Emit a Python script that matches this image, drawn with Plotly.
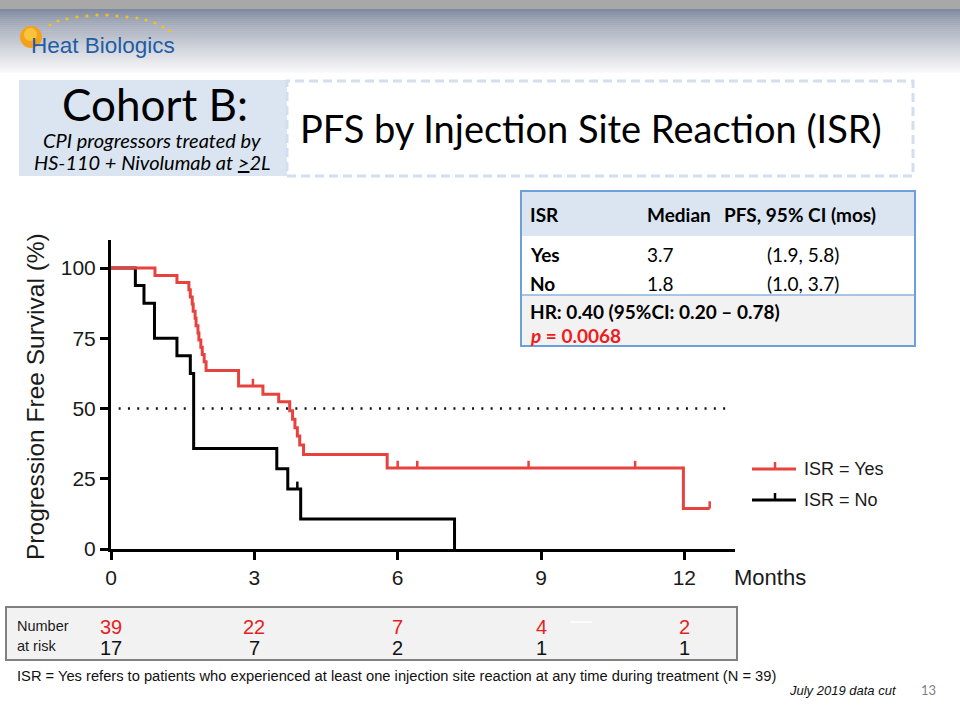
import plotly.graph_objects as go

W, H = 960, 720


def px(x):
    return x / W


def py(y):
    return 1 - y / H


# ---------------- data ----------------
yes_time = [0, 0.92, 1.38, 1.63, 1.66, 1.70, 1.72, 1.76, 1.78, 1.82, 1.84, 1.88, 1.91, 1.95, 1.99,
            2.67, 3.18, 3.51, 3.74, 3.80, 3.85, 3.90, 3.95, 4.03, 5.78, 11.98, 12.53]
yes_surv = [100, 97.4, 94.9, 92.3, 89.7, 87.2, 84.6, 82.1, 79.5, 76.9, 74.4, 71.8, 69.2, 66.7, 63.5,
            58.0, 55.1, 52.4, 49.2, 46.2, 43.2, 40.2, 37.0, 33.6, 28.8, 14.4, 14.4]
yes_censor_time = [2.97, 6.00, 6.41, 8.74, 10.97, 12.53]
yes_censor_surv = [58.0, 28.8, 28.8, 28.8, 28.8, 14.4]

no_time = [0, 0.51, 0.69, 0.91, 1.38, 1.66, 1.73, 3.47, 3.70, 3.97, 7.19]
no_surv = [100, 93.8, 87.5, 75.0, 68.8, 62.5, 35.8, 28.6, 21.4, 10.7, 0]
no_censor_time = [3.90]
no_censor_surv = [21.4]

month_ticks = [0, 3, 6, 9, 12]
pfs_ticks = [0, 25, 50, 75, 100]
risk_yes = [39, 22, 7, 4, 2]
risk_no = [17, 7, 2, 1, 1]
median_line_x = [0.16, 12.9]
median_line_y = [50, 50]

RED = "#e8423f"
RISK_RED = "#e41f1f"
CAL = "Lato, Open Sans, sans-serif"
ARIAL = "Liberation Sans, Arial, sans-serif"
NARROW = "Liberation Sans Narrow, Arial Narrow, Liberation Sans, Arial, sans-serif"

fig = go.Figure()

# 50% reference dotted line
fig.add_trace(go.Scatter(x=median_line_x, y=median_line_y, mode="lines",
                         line=dict(color="#111", width=2.5, dash="2px,7.3px"),
                         hoverinfo="skip", showlegend=False))
# step curves
fig.add_trace(go.Scatter(x=no_time, y=no_surv, mode="lines", line_shape="hv",
                         line=dict(color="#000", width=3), hoverinfo="skip", showlegend=False))
fig.add_trace(go.Scatter(x=yes_time, y=yes_surv, mode="lines", line_shape="hv",
                         line=dict(color=RED, width=3), hoverinfo="skip", showlegend=False))


def censor_segments(ts, ss, h=2.6):
    xs, ys = [], []
    for t, s in zip(ts, ss):
        xs += [t, t, None]
        ys += [s, s + h, None]
    return xs, ys


cx, cy = censor_segments(yes_censor_time, yes_censor_surv)
fig.add_trace(go.Scatter(x=cx, y=cy, mode="lines", line=dict(color=RED, width=2.5),
                         hoverinfo="skip", showlegend=False))
cx, cy = censor_segments(no_censor_time, no_censor_surv)
fig.add_trace(go.Scatter(x=cx, y=cy, mode="lines", line=dict(color="#000", width=2.5),
                         hoverinfo="skip", showlegend=False))

shapes = []
annotations = []

# ---------------- header gradient ----------------
shapes.append(dict(type="rect", xref="paper", yref="paper", x0=0, x1=1, y0=py(9), y1=py(0),
                   fillcolor="#a8a8a8", line=dict(width=0), layer="below"))
top = (128, 138, 158)
bot = (246, 246, 248)
n = 31
y0, y1 = 9, 72
for i in range(n):
    f = i / (n - 1)
    c = tuple(int(top[k] + (bot[k] - top[k]) * (f ** 0.8)) for k in range(3))
    ya = y0 + (y1 - y0) * i / n
    yb = y0 + (y1 - y0) * (i + 1) / n
    shapes.append(dict(type="rect", xref="paper", yref="paper", x0=0, x1=1, y0=py(yb + 0.5), y1=py(ya),
                       fillcolor="rgb(%d,%d,%d)" % c, line=dict(width=0), layer="below"))

# logo
shapes.append(dict(type="circle", xref="paper", yref="paper", x0=px(20), x1=px(42), y0=py(48), y1=py(26),
                   fillcolor="#f4a21c", line=dict(width=0)))
shapes.append(dict(type="circle", xref="paper", yref="paper", x0=px(24), x1=px(37), y0=py(41), y1=py(28),
                   fillcolor="#f9c43a", line=dict(width=0)))
dots = [(50, 25), (58, 21), (67, 19), (77, 17), (87, 16), (97, 15), (107, 15), (117, 16), (127, 17),
        (137, 18), (146, 20), (155, 23), (163, 27), (170, 31)]
for (dx, dy) in dots:
    shapes.append(dict(type="circle", xref="paper", yref="paper", x0=px(dx - 1.6), x1=px(dx + 1.6),
                       y0=py(dy + 1.6), y1=py(dy - 1.6), fillcolor="#f2c21b", line=dict(width=0)))
annotations.append(dict(text="Heat Biologics", x=px(29), y=py(45), xanchor="left", yanchor="middle",
                        font=dict(family=ARIAL, size=22.5, color="#1f5da6")))

# ---------------- title block ----------------
shapes.append(dict(type="rect", xref="paper", yref="paper", x0=px(19), x1=px(287), y0=py(176), y1=py(80),
                   fillcolor="#dbe5f1", line=dict(width=0)))
shapes.append(dict(type="rect", xref="paper", yref="paper", x0=px(287), x1=px(913), y0=py(176), y1=py(81),
                   fillcolor="rgba(0,0,0,0)", line=dict(color="#d3dfee", width=3, dash="9px,5px")))
annotations += [
    dict(text="Cohort B:", x=px(155), y=py(104), xanchor="center", yanchor="middle",
         font=dict(family=CAL, size=44, color="#000")),
    dict(text="<i>CPI progressors treated by</i>", x=px(152), y=py(140), xanchor="center", yanchor="middle",
         font=dict(family=CAL, size=20, color="#000")),
    dict(text="<i>HS-110 + Nivolumab at <u>></u>2L</i>", x=px(152), y=py(162), xanchor="center",
         yanchor="middle", font=dict(family=CAL, size=20, color="#000")),
    dict(text="PFS by Injection Site Reaction (ISR)", x=px(298), y=py(128), xanchor="left",
         yanchor="middle", font=dict(family=CAL, size=38, color="#000")),
]

# ---------------- table ----------------
tx0, tx1 = 521, 915
shapes += [
    dict(type="rect", xref="paper", yref="paper", x0=px(tx0), x1=px(tx1), y0=py(236), y1=py(191),
         fillcolor="#dbe5f1", line=dict(width=0)),
    dict(type="rect", xref="paper", yref="paper", x0=px(tx0), x1=px(tx1), y0=py(295), y1=py(236),
         fillcolor="#ffffff", line=dict(width=0)),
    dict(type="rect", xref="paper", yref="paper", x0=px(tx0), x1=px(tx1), y0=py(346), y1=py(295),
         fillcolor="#f2f2f2", line=dict(width=0)),
    dict(type="line", xref="paper", yref="paper", x0=px(tx0), x1=px(tx1), y0=py(295), y1=py(295),
         line=dict(color="#8db3e2", width=1.5)),
    dict(type="rect", xref="paper", yref="paper", x0=px(tx0), x1=px(tx1), y0=py(346), y1=py(191),
         fillcolor="rgba(0,0,0,0)", line=dict(color="#6f9fd8", width=2)),
]
tf = dict(family=CAL, size=19, color="#000")
tcells = [
    ("<b>ISR</b>", 528, 214), ("<b>Median</b>", 645, 214), ("<b>PFS, 95% CI (mos)</b>", 722, 214),
    ("<b>Yes</b>", 528, 254), ("3.7", 645, 254), ("(1.9, 5.8)", 765, 254),
    ("<b>No</b>", 528, 284), ("1.8", 645, 284), ("(1.0, 3.7)", 765, 284),
    ("<b>HR: 0.40 (95%CI: 0.20 – 0.78)</b>", 528, 311),
]
for t, x, y in tcells:
    annotations.append(dict(text=t, x=px(x), y=py(y), xanchor="left", yanchor="middle", font=tf))
annotations.append(dict(text="<b><i>p</i> = 0.0068</b>", x=px(528), y=py(335), xanchor="left",
                        yanchor="middle", font=dict(family=CAL, size=19, color="#ee1c1c")))

# ---------------- axis labels / legend ----------------
annotations.append(dict(text="Progression Free Survival (%)", x=px(35), y=py(397), xanchor="center",
                        yanchor="middle", textangle=-90, font=dict(family=ARIAL, size=24.5, color="#1a1a1a")))
annotations.append(dict(text="Months", x=px(732), y=py(577), xanchor="left", yanchor="middle",
                        font=dict(family=ARIAL, size=22, color="#1a1a1a")))

for (yy, col, lab) in [(469, RED, "ISR = Yes"), (500, "#000", "ISR = No")]:
    shapes.append(dict(type="line", xref="paper", yref="paper", x0=px(752), x1=px(796), y0=py(yy), y1=py(yy),
                       line=dict(color=col, width=3)))
    shapes.append(dict(type="line", xref="paper", yref="paper", x0=px(775), x1=px(775), y0=py(yy),
                       y1=py(yy - 7), line=dict(color=col, width=2.5)))
    annotations.append(dict(text=lab, x=px(802), y=py(yy), xanchor="left", yanchor="middle",
                            font=dict(family=ARIAL, size=18, color="#1a1a1a")))

# ---------------- number at risk ----------------
shapes.append(dict(type="rect", xref="paper", yref="paper", x0=px(6), x1=px(737), y0=py(660), y1=py(607),
                   fillcolor="#f2f2f2", line=dict(color="#808080", width=2)))
shapes.append(dict(type="line", xref="paper", yref="paper", x0=px(570), x1=px(592), y0=py(622), y1=py(622),
                   line=dict(color="#ffffff", width=1.5)))
annotations += [
    dict(text="Number", x=px(15), y=py(626), xanchor="left", yanchor="middle",
         font=dict(family=NARROW, size=14.5, color="#1a1a1a")),
    dict(text="at risk", x=px(15), y=py(646), xanchor="left", yanchor="middle",
         font=dict(family=NARROW, size=14.5, color="#1a1a1a")),
]
for m, a, b in zip(month_ticks, risk_yes, risk_no):
    annotations.append(dict(text=str(a), x=m, xref="x", y=py(627), xanchor="center", yanchor="middle",
                            font=dict(family=NARROW, size=20, color=RISK_RED)))
    annotations.append(dict(text=str(b), x=m, xref="x", y=py(648), xanchor="center", yanchor="middle",
                            font=dict(family=NARROW, size=20, color="#111")))

# ---------------- footer ----------------
annotations += [
    dict(text="ISR = Yes refers to patients who experienced at least one injection site reaction at any time "
              "during treatment (N = 39)", x=px(15), y=py(676), xanchor="left", yanchor="middle",
         font=dict(family=NARROW, size=14.7, color="#111")),
    dict(text="<i>July 2019 data cut</i>", x=px(787), y=py(690), xanchor="left", yanchor="middle",
         font=dict(family=NARROW, size=13, color="#111")),
    dict(text="13", x=px(928), y=py(690), xanchor="center", yanchor="middle",
         font=dict(family=CAL, size=13, color="#7f7f7f")),
]

for a in annotations:
    a.setdefault("showarrow", False)
    a.setdefault("xref", "paper")
    a.setdefault("yref", "paper")

axis_common = dict(showline=True, linecolor="#000", linewidth=3, ticks="outside", ticklen=8,
                   tickwidth=2.5, tickcolor="#000", showgrid=False, zeroline=False, automargin=False,
                   tickfont=dict(family=ARIAL, size=21, color="#1a1a1a"), fixedrange=True)

fig.update_layout(
    width=W, height=H, margin=dict(l=0, r=0, t=0, b=0, pad=0, autoexpand=False),
    paper_bgcolor="#ffffff", plot_bgcolor="rgba(0,0,0,0)",
    xaxis=dict(domain=[px(111), px(735)], range=[0, 13.06], tickvals=month_ticks, **axis_common),
    yaxis=dict(domain=[py(549), py(240)], range=[0, 110], tickvals=pfs_ticks, **axis_common),
    shapes=shapes, annotations=annotations, showlegend=False,
)

post = (
    "var gd=document.getElementById('{plot_id}');"
    "gd.style.position='fixed';gd.style.left='0px';gd.style.top='0px';"
    "var de=document.documentElement,b=document.body;"
    "de.style.margin='0';de.style.padding='0';de.style.overflow='hidden';"
    "b.style.margin='0';b.style.padding='0';b.style.overflow='hidden';"
)
fig.write_html("out.html", config={"displayModeBar": False}, post_script=post)
